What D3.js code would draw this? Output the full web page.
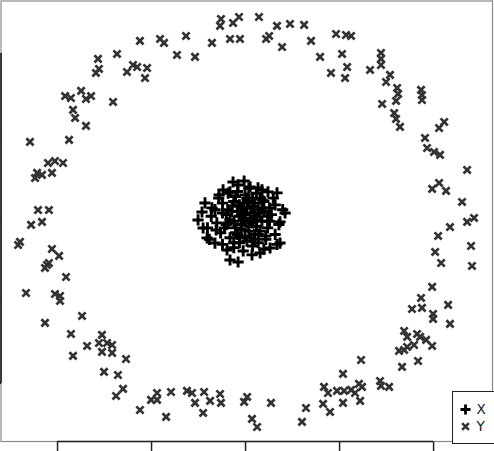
<!DOCTYPE html>
<html>
<head>
<meta charset="utf-8">
<script src="https://cdn.jsdelivr.net/npm/d3@7"></script>
<style>
	html, body { margin: 0; padding: 0; background: #fff; }
	svg { display: block; }
	text { font-family: "DejaVu Sans", sans-serif; }
</style>
</head>
<body>
<svg id="chart" width="494" height="451"></svg>
<script>
// outer ring (series Y)
let ringX = [
	-0.128,-0.133,-0.032,-0.064,-0.080,-0.027,-0.176,-0.314,-0.362,-0.266,-0.452,-0.431,-0.559,-0.681,-0.782,-0.777,-0.793,-0.628,-0.596,-0.574,-0.521,-0.532,
	-0.702,-0.957,-0.926,-0.872,-0.846,-0.819,-0.915,-0.904,-0.846,-0.936,-1.144,-1.048,-1.011,-0.968,-1.106,-1.117,-1.080,-1.027,-1.101,-1.043,-1.080,-1.138,
	0.074,0.170,0.239,0.314,0.112,0.128,0.197,0.351,0.399,0.484,0.537,0.564,0.516,0.543,0.532,0.457,0.665,0.723,0.723,0.723,0.771,0.750,
	0.809,0.814,0.803,0.729,0.793,0.803,0.824,0.936,0.941,0.941,1.059,1.032,0.957,0.968,1.005,1.037,1.181,0.995,1.032,1.069,1.154,1.181,1.218,1.090,
	-1.197,-1.207,-1.027,-0.989,-1.053,-1.043,-1.064,-0.952,-1.165,-1.011,-0.984,-0.984,-1.064,-0.867,-0.926,-0.915,-0.840,-0.761,-0.777,-0.734,-0.707,-0.761,
	-0.707,-0.633,-0.750,-0.676,-0.649,-0.686,-0.559,-0.500,-0.468,-0.468,-0.420,-0.394,-0.309,-0.282,-0.266,-0.218,-0.223,-0.186,-0.133,-0.128,-0.005,0.011,
	0.138,0.037,0.064,0.303,0.324,0.415,0.452,0.420,0.441,0.489,0.521,0.521,0.527,0.564,0.585,0.606,0.622,0.612,0.617,0.718,0.723,0.766,
	0.835,0.819,0.846,0.862,0.846,0.862,0.899,0.915,0.931,0.963,0.995,0.920,0.888,0.936,0.941,0.995,1.000,1.000,1.080,1.090,1.011,1.043,1.027,1.202,1.207
];
let ringY = [
	1.206,1.164,1.218,1.182,1.085,1.085,1.061,1.103,0.988,0.976,1.085,1.061,1.073,0.994,0.964,0.903,0.879,0.885,0.927,0.915,0.909,0.848,
	0.703,0.739,0.727,0.770,0.721,0.739,0.655,0.606,0.558,0.473,0.461,0.333,0.345,0.333,0.273,0.242,0.261,0.273,0.048,0.048,-0.024,-0.042,
	1.218,1.164,1.176,1.170,1.085,1.103,1.036,1.073,0.976,1.115,1.109,1.103,0.994,0.915,0.848,0.879,0.897,1.000,0.964,0.927,0.867,0.824,
	0.788,0.752,0.709,0.691,0.636,0.600,0.552,0.776,0.745,0.715,0.582,0.545,0.485,0.424,0.400,0.382,0.291,0.176,0.212,0.164,0.097,-0.024,0.000,-0.055,
	-0.145,-0.164,-0.188,-0.230,-0.285,-0.273,-0.303,-0.358,-0.455,-0.461,-0.473,-0.503,-0.636,-0.594,-0.703,-0.836,-0.776,-0.709,-0.758,-0.758,-0.770,-0.812,
	-0.818,-0.855,-0.933,-0.952,-1.036,-1.079,-1.164,-1.103,-1.061,-1.103,-1.206,-1.055,-1.048,-1.061,-1.121,-1.055,-1.182,-1.109,-1.067,-1.121,-1.115,-1.085,
	-1.121,-1.218,-1.267,-1.236,-1.152,-1.127,-1.176,-1.024,-1.061,-1.048,-0.945,-1.121,-1.048,-1.042,-1.061,-1.006,-1.024,-1.109,-0.861,-0.988,-1.018,-1.024,
	-0.903,-0.806,-0.800,-0.782,-0.685,-0.721,-0.770,-0.703,-0.721,-0.739,-0.776,-0.867,-0.552,-0.485,-0.545,-0.418,-0.582,-0.612,-0.527,-0.642,-0.206,-0.273,-0.109,-0.170,-0.291
];

// inner cluster (series X)
let coreX = [
	-0.064,-0.117,-0.138,-0.080,0.027,0.069,0.122,0.170,-0.037,-0.005,-0.213,-0.229,-0.250,-0.223,-0.202,-0.160,-0.096,-0.080,-0.037,0.037,0.080,0.133,0.186,0.213,0.186,0.160,0.090,-0.176,-0.154,
	-0.02,0.03,-0.05,0.08,-0.10,0.01,0.05,-0.08,0.12,-0.12,0.10,-0.03,0.00,0.04,-0.06,0.14,-0.15,0.07,-0.09,0.02,-0.04,0.09,-0.13,0.16,-0.01,0.06,-0.18,0.11,-0.07,0.03,
	-0.02,0.05,-0.11,0.13,-0.05,0.00,0.08,-0.16,0.18,-0.03,0.02,-0.09,0.10,-0.06,0.15,-0.20,0.20,0.04,-0.12,0.07,-0.01,0.01,-0.08,0.06,-0.04,0.12,-0.14,0.17,-0.19,0.09,
	0.00,0.02,-0.03,0.05,-0.06,0.03,-0.01,0.07,-0.04,0.01,-0.07,0.04,0.06,-0.02,0.09,-0.05,0.02,-0.09,0.11,-0.10,0.00,0.04,-0.03,0.08,-0.06,0.13,-0.12,0.05,-0.01,0.10
];
let coreY = [
	0.218,0.170,0.139,0.158,0.188,0.182,0.158,0.152,0.200,0.224,0.091,0.036,-0.012,-0.061,-0.121,-0.152,-0.194,-0.255,-0.267,-0.224,-0.212,-0.182,-0.152,0.030,-0.024,0.079,0.109,0.061,-0.073,
	0.05,-0.02,-0.06,0.03,0.02,0.12,-0.10,-0.12,-0.06,0.09,0.10,-0.15,0.00,0.07,0.10,0.02,-0.03,-0.15,-0.03,-0.08,0.16,-0.02,-0.09,-0.10,-0.20,0.15,0.01,-0.13,0.04,0.03,
	-0.04,0.01,-0.06,0.06,0.13,-0.11,-0.08,0.05,-0.04,0.08,0.18,0.15,-0.19,-0.18,0.12,-0.06,0.05,-0.17,-0.16,0.05,-0.01,0.06,-0.01,-0.05,-0.10,0.01,0.12,-0.16,-0.13,0.17,
	0.02,-0.05,0.01,0.09,-0.02,-0.12,0.06,-0.10,0.04,-0.14,0.07,0.12,-0.01,-0.07,0.06,-0.09,0.10,0.05,-0.11,-0.04,0.14,-0.03,-0.12,0.12,-0.15,-0.02,0.03,-0.13,0.09,0.04
];

let tickVals	= [-1, -0.5, 0, 0.5, 1];
let seriesNames	= ['X', 'Y'];

let svg		= d3.select('#chart');
let padL	= 1, padT = 1, padR = 492.5, padB = 441.5;

let x	= d3.scaleLinear().domain([-1.298, 1.316]).range([padL, padR]);
let y	= d3.scaleLinear().domain([-1.355, 1.315]).range([padB, padT]);

// grey frame
svg.append('rect').attr('x', padL).attr('y', padT).attr('width', padR - padL).attr('height', padB - padT)
	.style('fill', 'none').style('stroke', '#8a8a8a').style('stroke-width', 1.2);

// trimmed black spines with ticks
let xAxis = svg.append('g').attr('transform', 'translate(0,' + padB + ')')
	.call(d3.axisBottom(x).tickValues(tickVals).tickFormat('').tickSize(10).tickSizeOuter(0));
xAxis.select('.domain').remove();
xAxis.selectAll('line').style('stroke', '#222').style('stroke-width', 1.5);
svg.append('line').attr('x1', x(-1)).attr('x2', x(1)).attr('y1', padB).attr('y2', padB)
	.style('stroke', '#222').style('stroke-width', 1.7);

let yAxis = svg.append('g').attr('transform', 'translate(' + padL + ',0)')
	.call(d3.axisLeft(y).tickValues(tickVals).tickFormat('').tickSize(10).tickSizeOuter(0));
yAxis.select('.domain').remove();
svg.append('line').attr('x1', padL).attr('x2', padL).attr('y1', y(1)).attr('y2', y(-1))
	.style('stroke', '#222').style('stroke-width', 1.7);

let crossPath	= (r) => ('M' + (-r) + ',' + (-r) + 'L' + r + ',' + r + 'M' + (-r) + ',' + r + 'L' + r + ',' + (-r));
let plusPath	= (r) => ('M' + (-r) + ',0L' + r + ',0M0,' + (-r) + 'L0,' + r);

let ring = d3.zip(ringX, ringY);
let core = d3.zip(coreX, coreY);

svg.append('g').selectAll('path').data(ring).join('path')
	.attr('transform', (d) => ('translate(' + x(d[0]) + ',' + y(d[1]) + ')'))
	.attr('d', crossPath(3.6))
	.style('fill', 'none').style('stroke', '#333').style('stroke-width', 2.7);

svg.append('g').selectAll('path').data(core).join('path')
	.attr('transform', (d) => ('translate(' + x(d[0]) + ',' + y(d[1]) + ')'))
	.attr('d', plusPath(5.6))
	.style('fill', 'none').style('stroke', '#000').style('stroke-width', 2.9);

// legend
let legend = svg.append('g').attr('transform', 'translate(452.5,391.5)');
legend.append('rect').attr('width', 50).attr('height', 52).style('fill', '#fff').style('stroke', '#222').style('stroke-width', 1);
legend.append('path').attr('transform', 'translate(13,18)').attr('d', plusPath(5)).style('stroke', '#000').style('stroke-width', 2.8);
legend.append('path').attr('transform', 'translate(13,35)').attr('d', crossPath(3.4)).style('stroke', '#333').style('stroke-width', 2.6);
legend.selectAll('text').data(seriesNames).join('text')
	.attr('x', 24).attr('y', (d, i) => (18 + i * 17)).attr('dy', '0.36em')
	.style('font-size', '13.5px').style('fill', '#222').text((d) => d);
</script>
</body>
</html>
